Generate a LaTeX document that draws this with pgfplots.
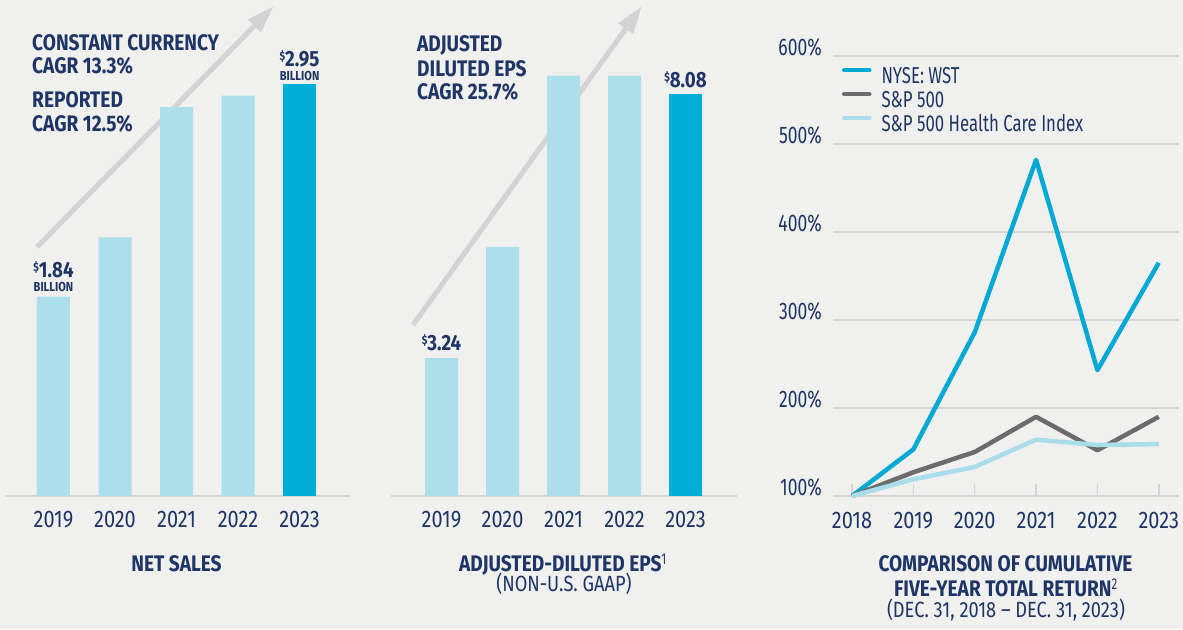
\documentclass[border=0pt]{standalone}
\usepackage{fontspec}
\setmainfont[UprightFeatures={FakeStretch=0.73}, BoldFeatures={FakeStretch=0.85}]{Fira Sans}
\newfontfamily\widefont[FakeStretch=0.83]{Fira Sans}
\usepackage{pgfplots}
\pgfplotsset{compat=1.18}
\usetikzlibrary{arrows.meta}
\definecolor{bg}{HTML}{F0F0EE}
\definecolor{navy}{HTML}{1F3566}
\definecolor{lightbar}{HTML}{ADDFEA}
\definecolor{darkbar}{HTML}{00AED8}
\definecolor{arrowgray}{HTML}{D3D3D3}
\definecolor{gridgray}{HTML}{D3D3D3}
\definecolor{wst}{HTML}{00A9D3}
\definecolor{spx}{HTML}{6B6B6B}
\definecolor{hc}{HTML}{A9DDEA}
\newcommand\tickfont{\fontsize{24}{24}\selectfont}
\newcommand\xtickfont{\widefont\fontsize{24}{24}\selectfont}
\newcommand\annfont{\fontsize{22.5}{22.5}\selectfont\bfseries}
\newcommand\valfont{\fontsize{22}{22}\selectfont\bfseries}
\newcommand\dollar{\raisebox{6pt}{\fontsize{12}{12}\selectfont\$}}
\begin{document}
\begin{tikzpicture}
\fill[bg] (0pt,0pt) rectangle (1183pt,629pt);
\draw[arrowgray, line width=5pt, -{Triangle[length=28pt,width=17pt]}] (37pt,382pt) -- (274pt,623pt);
\draw[arrowgray, line width=5pt, -{Triangle[length=28pt,width=17pt]}] (413pt,304pt) -- (642pt,623pt);

% ---------- NET SALES ----------
\begin{axis}[
  at={(6pt,133pt)}, anchor=south west, scale only axis,
  width=344pt, height=421.5pt,
  xmin=-0.772, xmax=4.82, ymin=0.8, ymax=3.0,
  axis x line=bottom, axis y line=none,
  x axis line style={draw=gridgray, line width=1.5pt, -},
  xtick={0,1,2,3,4}, xticklabels={2019,2020,2021,2022,2023},
  major tick length=0pt,
  xticklabel style={font=\xtickfont, text=navy, anchor=north, inner sep=0pt, yshift=-15pt},
  ybar, bar width=33pt, bar shift=0pt,
  clip mode=individual,
]
\addplot[fill=lightbar, draw=none] coordinates {(0,1.84) (1,2.15) (2,2.83) (3,2.89)};
\addplot[fill=darkbar, draw=none] coordinates {(4,2.95)};
\node[anchor=base, inner sep=0pt, text=navy, font=\fontsize{13}{13}\selectfont\bfseries, yshift=5pt] at (axis cs:0,1.84) {BILLION};
\node[anchor=base, inner sep=0pt, text=navy, font=\valfont, yshift=19pt] at (axis cs:0,1.84) {\dollar1.84};
\node[anchor=base, inner sep=0pt, text=navy, font=\fontsize{13}{13}\selectfont\bfseries, yshift=4pt] at (axis cs:4,2.95) {BILLION};
\node[anchor=base, inner sep=0pt, text=navy, font=\valfont, yshift=18pt] at (axis cs:4,2.95) {\dollar2.95};
\end{axis}

% ---------- EPS ----------
\begin{axis}[
  at={(391pt,133pt)}, anchor=south west, scale only axis,
  width=346pt, height=440pt,
  xmin=-0.828, xmax=4.844, ymin=0.71, ymax=8.78,
  axis x line=bottom, axis y line=none,
  x axis line style={draw=gridgray, line width=1.5pt, -},
  xtick={0,1,2,3,4}, xticklabels={2019,2020,2021,2022,2023},
  major tick length=0pt,
  xticklabel style={font=\xtickfont, text=navy, anchor=north, inner sep=0pt, yshift=-15pt},
  ybar, bar width=33pt, bar shift=0pt,
  clip mode=individual,
]
\addplot[fill=lightbar, draw=none] coordinates {(0,3.24) (1,5.28) (2,8.42) (3,8.42)};
\addplot[fill=darkbar, draw=none] coordinates {(4,8.08)};
\node[anchor=base, inner sep=0pt, text=navy, font=\valfont, yshift=8pt] at (axis cs:0,3.24) {\dollar3.24};
\node[anchor=base, inner sep=0pt, text=navy, font=\valfont, yshift=7pt] at (axis cs:4,8.08) {\dollar8.08};
\end{axis}

% ---------- TOTAL RETURN ----------
\begin{axis}[
  at={(833pt,133pt)}, anchor=south west, scale only axis,
  width=346pt, height=440pt,
  xmin=2017.69, xmax=2023.33, ymin=100, ymax=600,
  axis line style={draw=none},
  xtick={2018,2019,2020,2021,2022,2023},
  xticklabels={2018,2019,2020,2021,2022,2023},
  ytick={100,200,300,400,500,600},
  yticklabels={100\%,200\%,300\%,400\%,500\%,600\%},
  xtick pos=left, ytick pos=left, tick align=inside,
  major tick length=12pt,
  ytick style={draw=none},
  xtick style={draw=gridgray, line width=1.5pt},
  ymajorgrids, major grid style={draw=gridgray, line width=1.5pt},
  yticklabel style={font=\tickfont, text=navy, anchor=base east, inner sep=0pt, xshift=-11pt},
  xticklabel style={font=\xtickfont, text=navy, anchor=north, inner sep=0pt, yshift=-16pt},
  legend style={at={(rel axis cs:0.026,0.977)}, anchor=north west, draw=none, fill=none,
    inner sep=0pt, outer sep=0pt, row sep=0pt, column sep=10pt,
    font=\fontsize{23}{23}\selectfont, text=navy,
    nodes={inner sep=0pt, text height=17pt, text depth=7pt}},
  legend cell align=left,
  legend image code/.code={\draw[#1, line cap=round] (0pt,8pt) -- (25pt,8pt);},
  clip=false,
]
\addplot[wst, line width=4.5pt, line join=round] coordinates {(2018,100) (2019,153) (2020,286) (2021,482) (2022,243) (2023,365)};
\addlegendentry{NYSE: WST}
\addplot[spx, line width=4.5pt, line join=round] coordinates {(2018,100) (2019,127) (2020,150) (2021,190) (2022,152) (2023,190)};
\addlegendentry{S\&P 500}
\addplot[hc, line width=4.5pt, line join=round] coordinates {(2018,100) (2019,119) (2020,133) (2021,164) (2022,158) (2023,159)};
\addlegendentry{S\&P 500 Health Care Index}
\end{axis}

% ---------- annotations ----------
\node[anchor=base west, inner sep=0pt, text=navy, font=\annfont] at (32pt,578pt) {CONSTANT CURRENCY};
\node[anchor=base west, inner sep=0pt, text=navy, font=\annfont] at (32pt,555pt) {CAGR 13.3\%};
\node[anchor=base west, inner sep=0pt, text=navy, font=\annfont] at (32pt,521pt) {REPORTED};
\node[anchor=base west, inner sep=0pt, text=navy, font=\annfont] at (32pt,497pt) {CAGR 12.5\%};
\node[anchor=base west, inner sep=0pt, text=navy, font=\annfont] at (417pt,577pt) {ADJUSTED};
\node[anchor=base west, inner sep=0pt, text=navy, font=\annfont] at (417pt,552pt) {DILUTED EPS};
\node[anchor=base west, inner sep=0pt, text=navy, font=\annfont] at (417pt,529pt) {CAGR 25.7\%};

% ---------- titles ----------
\node[anchor=base, inner sep=0pt, text=navy, font=\annfont] at (176.5pt,57pt) {NET SALES};
\node[anchor=base, inner sep=0pt, text=navy, font=\annfont] at (563pt,57pt) {ADJUSTED-DILUTED EPS\textsuperscript{\mdseries 1}};
\node[anchor=base, inner sep=0pt, text=navy, font=\widefont\fontsize{22}{22}\selectfont] at (564pt,37pt) {(NON-U.S. GAAP)};
\node[anchor=base, inner sep=0pt, text=navy, font=\annfont] at (1005.5pt,57pt) {COMPARISON OF CUMULATIVE};
\node[anchor=base, inner sep=0pt, text=navy, font=\annfont] at (1006pt,32pt) {FIVE-YEAR TOTAL RETURN\textsuperscript{\mdseries 2}};
\node[anchor=base, inner sep=0pt, text=navy, font=\widefont\fontsize{22}{22}\selectfont] at (1006pt,12pt) {(DEC. 31, 2018 – DEC. 31, 2023)};
\end{tikzpicture}
\end{document}
